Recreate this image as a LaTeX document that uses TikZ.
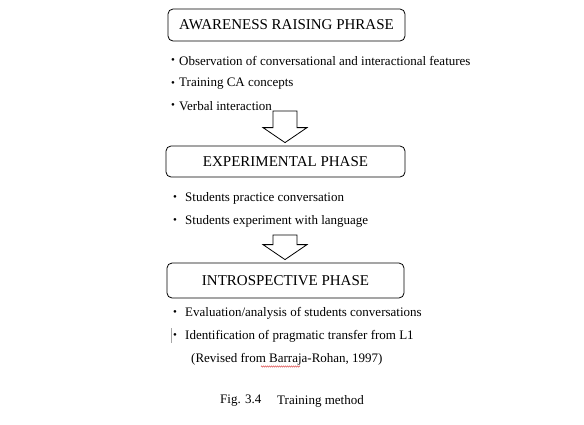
\documentclass[tikz,border=0pt]{standalone}
\usepackage{fontspec}
\setmainfont{Liberation Serif}
\usetikzlibrary{calc,decorations.pathmorphing}
\tikzset{
  phase/.style={draw,thick,rounded corners=5pt,minimum height=32pt,
    font=\fontsize{15}{17}\selectfont},
  item/.style={anchor=west,inner sep=0pt,font=\fontsize{13}{15}\selectfont},
  dot/.style={anchor=west,inner sep=0pt,font=\fontsize{11}{11}\selectfont},
  hollow/.style={draw,thick,fill=white,line join=miter}
}
% block arrow from a coordinate down to the top of a box
\newcommand{\hollowarrow}[2]{%
  \draw[hollow] let \p1=(#1), \p2=(#2.north) in
    (\x1-12pt,\y1) -- (\x1+12pt,\y1) -- (\x1+12pt,\y2+18pt)
    -- (\x1+22pt,\y2+18pt) -- (\x1,\y2+3pt) -- (\x1-22pt,\y2+18pt)
    -- (\x1-12pt,\y2+18pt) -- cycle;}
\begin{document}
\begin{tikzpicture}[x=1pt,y=-1pt]
\useasboundingbox (0,0) rectangle (584,424);
% phases
\node[phase,minimum width=237pt] (aware) at (286.5,25) {AWARENESS RAISING PHRASE};
\node[phase,minimum width=239pt,minimum height=31pt] (exper) at (285.5,161.5) {EXPERIMENTAL PHASE};
\node[phase,minimum width=237pt,minimum height=35pt] (intro) at (285.5,280.5) {INTROSPECTIVE PHASE};
% first list
\node[dot] (d1) at (171,61) {•};
\node[item] (a1) at (179,61) {Observation of conversational and interactional features};
\node[dot] (d2) at (171,84) {•};
\node[item] (a2) at (179,84) {Training CA concepts};
\node[dot] (d3) at (171,106) {•};
\node[item] (a3) at (179,106) {Verbal interaction};
% second list
\node[dot] (d4) at (173,198) {•};
\node[item] (b1) at (185,198) {Students practice conversation};
\node[dot] (d5) at (173,221) {•};
\node[item] (b2) at (185,221) {Students experiment with language};
% third list
\node[dot] (d6) at (173,313) {•};
\node[item] (c1) at (185,313) {Evaluation/analysis of students conversations};
\node[dot] (d7) at (173,336) {•};
\node[item] (c2) at (185,336) {Identification of pragmatic transfer from L1};
\draw[gray!70,thin] (171,328) -- (171,343);
\node[item] (src) at (191,359) {(Revised from Barraja-Rohan, 1997)};
\draw[red!80!black,very thin,decorate,decoration={zigzag,amplitude=0.7pt,segment length=2pt}]
  (261,366.5) -- (300,366.5);
% arrows
\coordinate (t1) at (285,111);
\coordinate (t2) at (285,235);
\hollowarrow{t1}{exper}
\hollowarrow{t2}{intro}
% caption
\node[item] (fig) at (220,401) {Fig. 3.4};
\node[item] (cap) at (277,401) {Training method};
\end{tikzpicture}
\end{document}
